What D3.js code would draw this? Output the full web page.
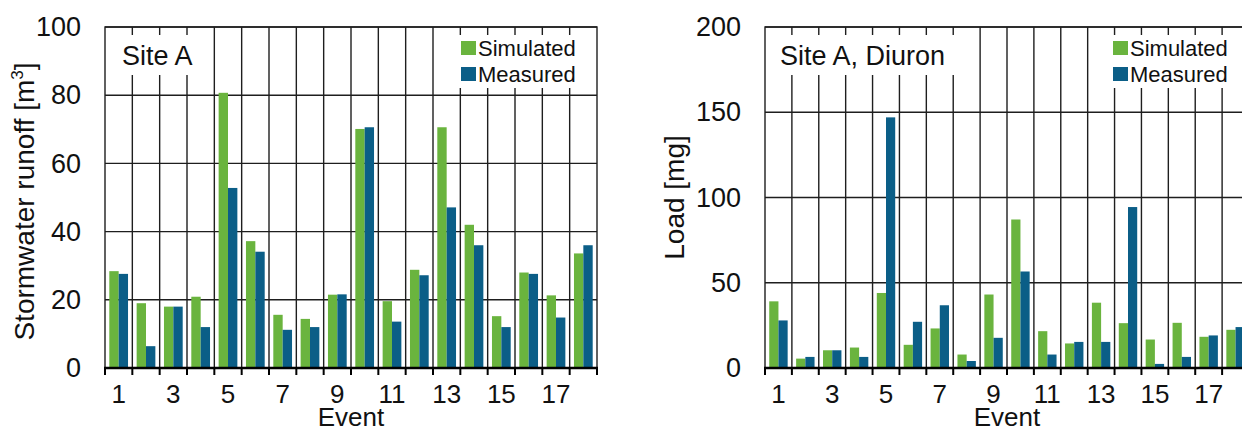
<!DOCTYPE html>
<html>
<head>
<meta charset="utf-8">
<script src="https://cdn.jsdelivr.net/npm/d3@7"></script>
<style>
  html, body { margin: 0; padding: 0; background: #fff; }
  svg { display: block; font-family: "Liberation Sans", Arial, sans-serif; }
</style>
</head>
<body>
<svg id="chart" width="1242" height="429"></svg>
<script>
// ---- data ----
const events = ["1","2","3","4","5","6","7","8","9","10","11","12","13","14","15","16","17","18"];
const xTickLabels = ["1","3","5","7","9","11","13","15","17"];
const seriesNames = ["Simulated", "Measured"];

const runoffSimulated = [28.4, 19.0, 18.0, 20.9, 80.7, 37.2, 15.6, 14.4, 21.5, 70.1, 19.6, 28.8, 70.6, 42.0, 15.2, 28.0, 21.3, 33.6];
const runoffMeasured  = [27.6, 6.4, 18.0, 12.0, 52.8, 34.1, 11.2, 12.0, 21.6, 70.6, 13.6, 27.2, 47.1, 36.0, 12.0, 27.6, 14.8, 36.0];
const runoffTicks = [0, 20, 40, 60, 80, 100];

const diuronSimulated = [39.1, 5.5, 10.4, 12.0, 44.0, 13.6, 23.2, 7.9, 43.1, 87.1, 21.6, 14.4, 38.3, 26.3, 16.7, 26.5, 18.3, 22.4];
const diuronMeasured  = [27.9, 6.5, 10.4, 6.5, 147.0, 27.1, 36.8, 4.1, 17.7, 56.6, 7.9, 15.3, 15.3, 94.4, 2.4, 6.5, 19.1, 24.0];
const diuronTicks = [0, 50, 100, 150, 200];

// ---- style ----
const colors = { Simulated: "#6AB43E", Measured: "#0B5E87" };
const gridColor = "#1e1e1e";

const svg = d3.select("#chart");
svg.append("rect").attr("width", 1242).attr("height", 429).attr("fill", "#fff");

function drawPanel(cfg) {
  const g = svg.append("g");
  const x = d3.scaleBand().domain(events).range([cfg.left, cfg.right]).paddingInner(0).paddingOuter(0);
  const xs = d3.scaleBand().domain(seriesNames).range([0, x.bandwidth()]).paddingInner(0).paddingOuter(0.46);
  const y = d3.scaleLinear().domain([0, cfg.yMax]).range([cfg.bottom, cfg.top]);

  // horizontal gridlines
  g.selectAll(".hg").data(cfg.ticks).join("line")
    .attr("x1", cfg.left).attr("x2", cfg.right)
    .attr("y1", d => y(d)).attr("y2", d => y(d))
    .attr("stroke", gridColor).attr("stroke-width", 1.4);
  // vertical gridlines at category boundaries
  const bounds = events.slice(1);
  g.selectAll(".vg").data(bounds).join("line")
    .attr("x1", d => x(d)).attr("x2", d => x(d))
    .attr("y1", cfg.top).attr("y2", cfg.bottom)
    .attr("stroke", gridColor).attr("stroke-width", 1.4);

  // bars
  const rows = events.map((e, i) => ({ e, Simulated: cfg.sim[i], Measured: cfg.meas[i] }));
  const grp = g.selectAll(".cat").data(rows).join("g").attr("transform", d => `translate(${x(d.e)},0)`);
  grp.selectAll("rect").data(d => seriesNames.map(k => ({ k, v: d[k] }))).join("rect")
    .attr("x", d => xs(d.k)).attr("width", xs.bandwidth())
    .attr("y", d => y(d.v)).attr("height", d => cfg.bottom - y(d.v))
    .attr("fill", d => colors[d.k]);

  // label box
  g.append("rect").attr("x", cfg.left + 1).attr("y", cfg.top + 8)
    .attr("width", cfg.labelBoxW).attr("height", 40).attr("fill", "#fff");
  g.append("text").attr("x", cfg.left + cfg.labelDx).attr("y", cfg.top + 38)
    .attr("font-size", 27).attr("fill", "#111").text(cfg.label);

  // legend box
  const lgX = cfg.legendX;
  g.append("rect").attr("x", lgX - 7).attr("y", cfg.top + 8)
    .attr("width", cfg.right - lgX + 6).attr("height", 53).attr("fill", "#fff");
  seriesNames.forEach((s, i) => {
    const yy = cfg.top + 14 + i * 26;
    g.append("rect").attr("x", lgX).attr("y", yy).attr("width", 15).attr("height", 14).attr("fill", colors[s]);
    g.append("text").attr("x", lgX + 17).attr("y", yy + 14.5)
      .attr("font-size", 22).attr("fill", "#111").text(s);
  });

  // frame
  g.append("rect").attr("x", cfg.left).attr("y", cfg.top)
    .attr("width", cfg.right - cfg.left).attr("height", cfg.bottom - cfg.top)
    .attr("fill", "none").attr("stroke", gridColor).attr("stroke-width", 1.4);

  // x axis
  const xAxis = d3.axisBottom(x).tickSize(0).tickFormat(d => xTickLabels.includes(d) ? d : "");
  const ax = g.append("g").attr("transform", `translate(0,${cfg.bottom})`).call(xAxis);
  ax.select(".domain").remove();
  ax.selectAll("text").attr("font-size", 26).attr("fill", "#111").attr("font-family", "Liberation Sans, Arial, sans-serif").attr("dy", null).attr("y", 35);
  // baseline and boundary ticks
  g.append("line").attr("x1", cfg.left - 1).attr("x2", cfg.right + 1)
    .attr("y1", cfg.bottom).attr("y2", cfg.bottom).attr("stroke", "#000").attr("stroke-width", 2.6);
  g.selectAll(".bt").data(events.concat(["end"])).join("line")
    .attr("x1", d => d === "end" ? cfg.right : x(d)).attr("x2", d => d === "end" ? cfg.right : x(d))
    .attr("y1", cfg.bottom).attr("y2", cfg.bottom + 7)
    .attr("stroke", "#000").attr("stroke-width", 2);
  g.append("text").attr("x", (cfg.left + cfg.right) / 2).attr("y", 426)
    .attr("text-anchor", "middle").attr("font-size", 26).attr("fill", "#111").text("Event");

  // y axis labels
  const yAxis = d3.axisLeft(y).tickValues(cfg.ticks).tickSize(0).tickPadding(24);
  const ay = g.append("g").attr("transform", `translate(${cfg.left},0)`).call(yAxis);
  ay.select(".domain").remove();
  ay.selectAll("text").attr("font-size", 27).attr("fill", "#111").attr("font-family", "Liberation Sans, Arial, sans-serif");

  // y title
  const t = g.append("text").attr("transform", `translate(${cfg.titleX},${(cfg.top + cfg.bottom) / 2 + cfg.titleDy}) rotate(-90)`)
    .attr("text-anchor", "middle").attr("font-size", 28).attr("fill", "#111");
  cfg.title(t);
}

drawPanel({
  left: 105, right: 597, top: 27, bottom: 368, yMax: 100, ticks: runoffTicks,
  sim: runoffSimulated, meas: runoffMeasured,
  label: "Site A", labelDx: 17, labelBoxW: 98, legendX: 461, titleX: 34, titleDy: 4,
  title: t => { t.append("tspan").text("Stormwater runoff [m");
                t.append("tspan").attr("font-size", 17).attr("dy", -11).text("3");
                t.append("tspan").attr("dy", 11).text("]"); }
});
drawPanel({
  left: 765, right: 1249, top: 27, bottom: 368, yMax: 200, ticks: diuronTicks,
  sim: diuronSimulated, meas: diuronMeasured,
  label: "Site A, Diuron", labelDx: 15, labelBoxW: 200, legendX: 1113, titleX: 684, titleDy: 0,
  title: t => { t.text("Load [mg]"); }
});
</script>
</body>
</html>
